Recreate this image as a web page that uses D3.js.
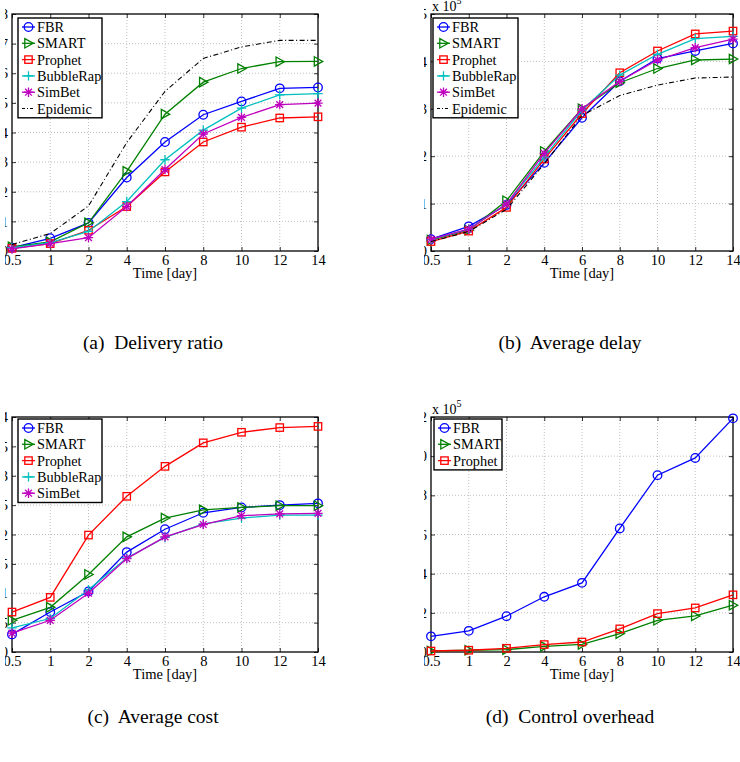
<!DOCTYPE html>
<html>
<head>
<meta charset="utf-8">
<script src="https://cdn.jsdelivr.net/npm/d3@7"></script>
<style>
  body { margin: 0; background: #fff; }
  svg { display: block; }
  svg text { font-family: 'Liberation Serif', Tinos, 'Times New Roman', 'DejaVu Serif', serif; fill: #000; }
</style>
</head>
<body>
<svg id="fig" width="740" height="762"></svg>
<script>
'use strict'

// x categories (days), equally spaced like the original plots
const days = ['0.5', '1', '2', '4', '6', '8', '10', '12', '14']

// (a) delivery ratio
const deliveryTicks = [0, 0.1, 0.2, 0.3, 0.4, 0.5, 0.6, 0.7, 0.8]
const deliveryFBR = [0.011, 0.043, 0.095, 0.248, 0.368, 0.46, 0.505, 0.549, 0.552]
const deliverySMART = [0.014, 0.031, 0.095, 0.269, 0.462, 0.57, 0.616, 0.639, 0.64]
const deliveryProphet = [0.009, 0.025, 0.07, 0.15, 0.267, 0.368, 0.418, 0.449, 0.453]
const deliveryBubbleRap = [0.011, 0.028, 0.066, 0.167, 0.308, 0.408, 0.482, 0.527, 0.531]
const deliverySimBet = [0.007, 0.025, 0.045, 0.15, 0.275, 0.395, 0.451, 0.494, 0.499]
const deliveryEpidemic = [0.022, 0.059, 0.152, 0.366, 0.539, 0.65, 0.689, 0.711, 0.711]

// (b) average delay, in units of 10^5
const delayTicks = [0, 1, 2, 3, 4, 5]
const delayFBR = [0.25, 0.52, 0.97, 1.86, 2.81, 3.58, 4.06, 4.22, 4.38]
const delaySMART = [0.23, 0.44, 1.06, 2.10, 3.0, 3.55, 3.85, 4.03, 4.05]
const delayProphet = [0.20, 0.42, 0.92, 1.94, 2.9, 3.76, 4.22, 4.58, 4.64]
const delayBubbleRap = [0.24, 0.46, 0.99, 1.98, 2.97, 3.71, 4.15, 4.48, 4.53]
const delaySimBet = [0.25, 0.46, 0.99, 2.06, 3.0, 3.58, 4.03, 4.29, 4.47]
const delayEpidemic = [0.20, 0.41, 0.88, 1.84, 2.86, 3.28, 3.5, 3.65, 3.67]

// (c) average cost
const costTicks = [0, 0.5, 1, 1.5, 2, 2.5, 3, 3.5, 4]
const costFBR = [0.30, 0.68, 1.03, 1.70, 2.09, 2.37, 2.46, 2.50, 2.53]
const costSMART = [0.54, 0.76, 1.32, 1.96, 2.28, 2.42, 2.46, 2.49, 2.49]
const costProphet = [0.68, 0.93, 1.99, 2.65, 3.16, 3.56, 3.74, 3.82, 3.84]
const costBubbleRap = [0.41, 0.57, 1.06, 1.60, 1.95, 2.18, 2.28, 2.33, 2.33]
const costSimBet = [0.32, 0.54, 1.0, 1.59, 1.96, 2.17, 2.32, 2.35, 2.36]

// (d) control overhead, in units of 10^5
const overheadTicks = [0, 2, 4, 6, 8, 10, 12]
const overheadFBR = [0.80, 1.08, 1.83, 2.82, 3.53, 6.31, 9.03, 9.91, 11.93]
const overheadSMART = [0.05, 0.09, 0.12, 0.29, 0.39, 0.94, 1.62, 1.84, 2.39]
const overheadProphet = [0.05, 0.09, 0.19, 0.38, 0.51, 1.18, 1.96, 2.25, 2.92]

const FONT = "'Liberation Serif', Tinos, 'Times New Roman', 'DejaVu Serif', serif"

const styles = {
  FBR: { color: '#0000ff', marker: 'circle' },
  SMART: { color: '#008000', marker: 'triangle' },
  Prophet: { color: '#ff0000', marker: 'square' },
  BubbleRap: { color: '#00bfbf', marker: 'plus' },
  SimBet: { color: '#bf00bf', marker: 'star' },
  Epidemic: { color: '#000000', marker: null, dash: '5,2.5,1,2.5' }
}

const panels = [
  {
    id: 'a', left: 12, right: 318, top: 14, bottom: 251, clipX: 5,
    ticks: deliveryTicks, exponent: false,
    caption: '(a)  Delivery ratio', captionY: 349,
    legend: { x: 18, y: 18, w: 84 },
    series: [['FBR', deliveryFBR], ['SMART', deliverySMART], ['Prophet', deliveryProphet],
      ['BubbleRap', deliveryBubbleRap], ['SimBet', deliverySimBet], ['Epidemic', deliveryEpidemic]]
  },
  {
    id: 'b', left: 431, right: 733, top: 14, bottom: 251, clipX: 424,
    ticks: delayTicks, exponent: true,
    caption: '(b)  Average delay', captionY: 349,
    legend: { x: 433, y: 18, w: 85 },
    series: [['FBR', delayFBR], ['SMART', delaySMART], ['Prophet', delayProphet],
      ['BubbleRap', delayBubbleRap], ['SimBet', delaySimBet], ['Epidemic', delayEpidemic]]
  },
  {
    id: 'c', left: 12, right: 318, top: 417, bottom: 652, clipX: 5,
    ticks: costTicks, exponent: false,
    caption: '(c)  Average cost', captionY: 723,
    legend: { x: 18, y: 419, w: 84 },
    series: [['FBR', costFBR], ['SMART', costSMART], ['Prophet', costProphet],
      ['BubbleRap', costBubbleRap], ['SimBet', costSimBet]]
  },
  {
    id: 'd', left: 431, right: 733, top: 417, bottom: 652, clipX: 424,
    ticks: overheadTicks, exponent: true,
    caption: '(d)  Control overhead', captionY: 723,
    legend: { x: 434, y: 419, w: 68 },
    series: [['FBR', overheadFBR], ['SMART', overheadSMART], ['Prophet', overheadProphet]]
  }
]

const svg = d3.select('#fig')

function drawMarker(g, type, color) {
  if (!type) return
  const m = g.append('g').attr('fill', 'none').attr('stroke', color).attr('stroke-width', 1.3)
  if (type === 'circle') m.append('circle').attr('r', 4.3)
  if (type === 'square') m.append('rect').attr('x', -3.7).attr('y', -3.7).attr('width', 7.4).attr('height', 7.4)
  if (type === 'triangle') m.append('path').attr('d', 'M-3.7,-4.7L4.7,0L-3.7,4.7Z')
  if (type === 'plus') m.append('path').attr('d', 'M-4.7,0H4.7M0,-4.7V4.7')
  if (type === 'star') m.append('path').attr('d', 'M-4.7,0H4.7M0,-4.7V4.7M-3.4,-3.4L3.4,3.4M-3.4,3.4L3.4,-3.4')
}

function drawPanel(p) {
  const x = d3.scalePoint().domain(days).range([p.left, p.right])
  const y = d3.scaleLinear().domain([0, p.ticks[p.ticks.length - 1]]).range([p.bottom, p.top])
  const w = p.right - p.left
  const h = p.bottom - p.top
  const g = svg.append('g').attr('class', 'panel-' + p.id)

  // tick labels are cut off on the left, as in the source figure
  svg.append('clipPath').attr('id', 'clip-' + p.id)
    .append('rect').attr('x', p.clipX).attr('y', p.top - 20)
    .attr('width', 400).attr('height', h + 60)

  // dotted grid
  const grid = g.append('g').attr('stroke', '#b0b0b0').attr('stroke-width', 0.8)
    .attr('stroke-dasharray', '1,2')
  grid.selectAll('line.gx').data(days.slice(1, -1)).enter().append('line')
    .attr('x1', d => x(d)).attr('x2', d => x(d)).attr('y1', p.top).attr('y2', p.bottom)
  grid.selectAll('line.gy').data(p.ticks.slice(1, -1)).enter().append('line')
    .attr('y1', d => y(d)).attr('y2', d => y(d)).attr('x1', p.left).attr('x2', p.right)

  // axes, ticks pointing inward; wrapper group carries the clip so it stays in page coords
  const clipped = g.append('g').attr('clip-path', `url(#clip-${p.id})`)
  clipped.append('g').attr('transform', `translate(0,${p.bottom})`)
    .call(d3.axisBottom(x).tickSizeInner(-4).tickSizeOuter(0).tickPadding(4))
  clipped.append('g').attr('transform', `translate(${p.left},0)`)
    .call(d3.axisLeft(y).tickValues(p.ticks).tickFormat(d => String(d))
      .tickSizeInner(-4).tickSizeOuter(0).tickPadding(4))
  g.append('g').attr('transform', `translate(0,${p.top})`)
    .call(d3.axisTop(x).tickSizeInner(-4).tickSizeOuter(0).tickFormat(''))
  g.append('g').attr('transform', `translate(${p.right},0)`)
    .call(d3.axisRight(y).tickValues(p.ticks).tickSizeInner(-4).tickSizeOuter(0).tickFormat(''))
  g.selectAll('.domain').remove()
  g.selectAll('g').attr('font-family', FONT)
  g.selectAll('.tick line').attr('stroke', '#000').attr('stroke-width', 0.8)
  g.selectAll('.tick text').attr('font-size', 14.5)

  // frame
  g.append('rect').attr('x', p.left).attr('y', p.top).attr('width', w).attr('height', h)
    .attr('fill', 'none').attr('stroke', '#000').attr('stroke-width', 1.3)

  g.append('text').attr('x', (p.left + p.right) / 2).attr('y', p.bottom + 27)
    .attr('text-anchor', 'middle').attr('font-size', 14.5).text('Time [day]')

  if (p.exponent) {
    const t = g.append('text').attr('x', p.left + 1).attr('y', p.top - 3).attr('font-size', 14)
    t.append('tspan').text('x 10')
    t.append('tspan').attr('font-size', 10).attr('dy', -7).text('5')
  }

  // series
  const line = d3.line().x((d, i) => x(days[i])).y(d => y(d))
  p.series.forEach(([name, values]) => {
    const s = styles[name]
    const sg = g.append('g')
    sg.append('path').datum(values).attr('d', line)
      .attr('fill', 'none').attr('stroke', s.color)
      .attr('stroke-width', s.dash ? 1.1 : 1.3)
      .attr('stroke-dasharray', s.dash || null)
    values.forEach((v, i) => {
      drawMarker(sg.append('g').attr('transform', `translate(${x(days[i])},${y(v)})`), s.marker, s.color)
    })
  })

  // legend
  const L = p.legend
  const rowH = 16.3
  const lg = g.append('g')
  lg.append('rect').attr('x', L.x).attr('y', L.y).attr('width', L.w)
    .attr('height', p.series.length * rowH + 2)
    .attr('fill', '#fff').attr('stroke', '#000').attr('stroke-width', 1.4)
  p.series.forEach(([name], i) => {
    const s = styles[name]
    const cy = L.y + 9 + i * rowH
    lg.append('line').attr('x1', L.x + 4).attr('x2', L.x + 17).attr('y1', cy).attr('y2', cy)
      .attr('stroke', s.color).attr('stroke-width', s.dash ? 1.1 : 1.3)
      .attr('stroke-dasharray', s.dash ? '3,2,1,2' : null)
    drawMarker(lg.append('g').attr('transform', `translate(${L.x + 10.5},${cy})`), s.marker, s.color)
    lg.append('text').attr('x', L.x + 19).attr('y', cy + 5).attr('font-size', 14.3).text(name)
  })

  svg.append('text').attr('x', (p.left + p.right) / 2 - 12).attr('y', p.captionY)
    .attr('text-anchor', 'middle').attr('font-size', 19.5).style('white-space', 'pre')
    .text(p.caption)
}

panels.forEach(drawPanel)
</script>
</body>
</html>
